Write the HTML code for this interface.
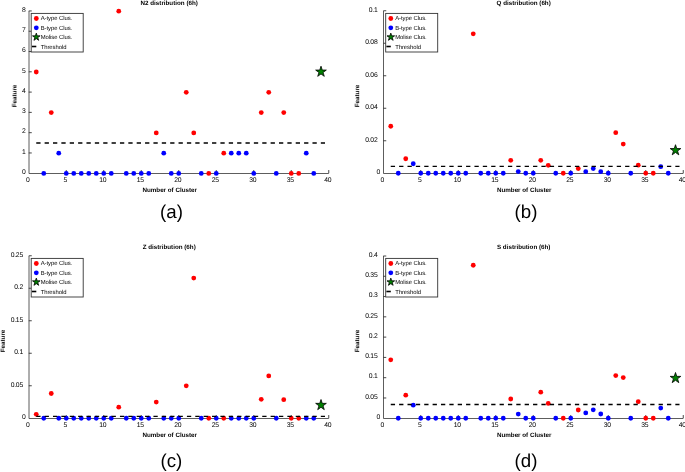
<!DOCTYPE html>
<html><head><meta charset="utf-8"><title>distribution</title><style>
html,body{margin:0;padding:0;background:#fff;}
svg text{will-change:transform;}
svg{display:block;}
text{font-family:"Liberation Sans",sans-serif;text-rendering:geometricPrecision;}
.tk{font-size:6.8px;fill:#000;letter-spacing:-0.25px;}
.lg{font-size:5.9px;fill:#000;letter-spacing:-0.05px;}
.bd{font-size:6.25px;font-weight:bold;fill:#000;}
.big{font-size:18.7px;fill:#000;}
</style></head>
<body><svg width="685" height="472" viewBox="0 0 685 472">
<rect width="685" height="472" fill="#fff"/>
<g transform="translate(0,0)">
<path d="M29.0,11.0 V173.5 H328.75" fill="none" stroke="#333" stroke-width="0.8"/>
<text x="25.45" y="174.05" text-anchor="end" class="tk">0</text>
<line x1="28.75" y1="152.96" x2="31.75" y2="152.96" stroke="#333" stroke-width="0.9"/>
<text x="25.45" y="153.76" text-anchor="end" class="tk">1</text>
<line x1="28.75" y1="132.68" x2="31.75" y2="132.68" stroke="#333" stroke-width="0.9"/>
<text x="25.45" y="133.48" text-anchor="end" class="tk">2</text>
<line x1="28.75" y1="112.39" x2="31.75" y2="112.39" stroke="#333" stroke-width="0.9"/>
<text x="25.45" y="113.19" text-anchor="end" class="tk">3</text>
<line x1="28.75" y1="92.10" x2="31.75" y2="92.10" stroke="#333" stroke-width="0.9"/>
<text x="25.45" y="92.90" text-anchor="end" class="tk">4</text>
<line x1="28.75" y1="71.81" x2="31.75" y2="71.81" stroke="#333" stroke-width="0.9"/>
<text x="25.45" y="72.61" text-anchor="end" class="tk">5</text>
<line x1="28.75" y1="51.53" x2="31.75" y2="51.53" stroke="#333" stroke-width="0.9"/>
<text x="25.45" y="52.33" text-anchor="end" class="tk">6</text>
<line x1="28.75" y1="31.24" x2="31.75" y2="31.24" stroke="#333" stroke-width="0.9"/>
<text x="25.45" y="32.04" text-anchor="end" class="tk">7</text>
<line x1="28.75" y1="10.95" x2="31.75" y2="10.95" stroke="#333" stroke-width="0.9"/>
<text x="25.45" y="11.75" text-anchor="end" class="tk">8</text>
<text x="27.75" y="181.75" text-anchor="middle" class="tk">0</text>
<line x1="66.25" y1="173.25" x2="66.25" y2="170.05" stroke="#333" stroke-width="0.9"/>
<text x="65.25" y="181.75" text-anchor="middle" class="tk">5</text>
<line x1="103.75" y1="173.25" x2="103.75" y2="170.05" stroke="#333" stroke-width="0.9"/>
<text x="102.75" y="181.75" text-anchor="middle" class="tk">10</text>
<line x1="141.25" y1="173.25" x2="141.25" y2="170.05" stroke="#333" stroke-width="0.9"/>
<text x="140.25" y="181.75" text-anchor="middle" class="tk">15</text>
<line x1="178.75" y1="173.25" x2="178.75" y2="170.05" stroke="#333" stroke-width="0.9"/>
<text x="177.75" y="181.75" text-anchor="middle" class="tk">20</text>
<line x1="216.25" y1="173.25" x2="216.25" y2="170.05" stroke="#333" stroke-width="0.9"/>
<text x="215.25" y="181.75" text-anchor="middle" class="tk">25</text>
<line x1="253.75" y1="173.25" x2="253.75" y2="170.05" stroke="#333" stroke-width="0.9"/>
<text x="252.75" y="181.75" text-anchor="middle" class="tk">30</text>
<line x1="291.25" y1="173.25" x2="291.25" y2="170.05" stroke="#333" stroke-width="0.9"/>
<text x="290.25" y="181.75" text-anchor="middle" class="tk">35</text>
<line x1="328.75" y1="173.25" x2="328.75" y2="170.05" stroke="#333" stroke-width="0.9"/>
<text x="327.75" y="181.75" text-anchor="middle" class="tk">40</text>
<circle cx="36.25" cy="72.01" r="2.4" fill="#ff0000"/>
<circle cx="51.25" cy="112.59" r="2.4" fill="#ff0000"/>
<circle cx="118.75" cy="11.15" r="2.4" fill="#ff0000"/>
<circle cx="156.25" cy="132.88" r="2.4" fill="#ff0000"/>
<circle cx="186.25" cy="92.30" r="2.4" fill="#ff0000"/>
<circle cx="193.75" cy="132.88" r="2.4" fill="#ff0000"/>
<circle cx="208.75" cy="173.45" r="2.4" fill="#ff0000"/>
<circle cx="223.75" cy="153.16" r="2.4" fill="#ff0000"/>
<circle cx="261.25" cy="112.59" r="2.4" fill="#ff0000"/>
<circle cx="268.75" cy="92.30" r="2.4" fill="#ff0000"/>
<circle cx="283.75" cy="112.59" r="2.4" fill="#ff0000"/>
<circle cx="291.25" cy="173.45" r="2.4" fill="#ff0000"/>
<circle cx="298.75" cy="173.45" r="2.4" fill="#ff0000"/>
<circle cx="43.75" cy="173.45" r="2.4" fill="#0000ff"/>
<circle cx="66.25" cy="173.45" r="2.4" fill="#0000ff"/>
<circle cx="73.75" cy="173.45" r="2.4" fill="#0000ff"/>
<circle cx="81.25" cy="173.45" r="2.4" fill="#0000ff"/>
<circle cx="88.75" cy="173.45" r="2.4" fill="#0000ff"/>
<circle cx="96.25" cy="173.45" r="2.4" fill="#0000ff"/>
<circle cx="103.75" cy="173.45" r="2.4" fill="#0000ff"/>
<circle cx="111.25" cy="173.45" r="2.4" fill="#0000ff"/>
<circle cx="126.25" cy="173.45" r="2.4" fill="#0000ff"/>
<circle cx="133.75" cy="173.45" r="2.4" fill="#0000ff"/>
<circle cx="141.25" cy="173.45" r="2.4" fill="#0000ff"/>
<circle cx="148.75" cy="173.45" r="2.4" fill="#0000ff"/>
<circle cx="171.25" cy="173.45" r="2.4" fill="#0000ff"/>
<circle cx="178.75" cy="173.45" r="2.4" fill="#0000ff"/>
<circle cx="201.25" cy="173.45" r="2.4" fill="#0000ff"/>
<circle cx="216.25" cy="173.45" r="2.4" fill="#0000ff"/>
<circle cx="253.75" cy="173.45" r="2.4" fill="#0000ff"/>
<circle cx="276.25" cy="173.45" r="2.4" fill="#0000ff"/>
<circle cx="313.75" cy="173.45" r="2.4" fill="#0000ff"/>
<circle cx="58.75" cy="153.16" r="2.4" fill="#0000ff"/>
<circle cx="163.75" cy="153.16" r="2.4" fill="#0000ff"/>
<circle cx="231.25" cy="153.16" r="2.4" fill="#0000ff"/>
<circle cx="238.75" cy="153.16" r="2.4" fill="#0000ff"/>
<circle cx="246.25" cy="153.16" r="2.4" fill="#0000ff"/>
<circle cx="306.25" cy="153.16" r="2.4" fill="#0000ff"/>
<polygon points="321.00,66.20 322.26,70.06 326.33,70.07 323.04,72.46 324.29,76.33 321.00,73.95 317.71,76.33 318.96,72.46 315.67,70.07 319.74,70.06" fill="#008000" stroke="#000" stroke-width="0.8"/>
<line x1="36.25" y1="143.00" x2="325.0" y2="143.00" stroke="#000" stroke-width="1.4" stroke-dasharray="4.3 4.07"/>
<rect x="31.2" y="13.4" width="52.0" height="38.6" fill="#fff" stroke="#333" stroke-width="0.9"/>
<circle cx="36.3" cy="18.5" r="2.4" fill="#ff0000"/>
<circle cx="36.3" cy="27.8" r="2.4" fill="#0000ff"/>
<polygon points="36.30,33.10 37.21,35.85 40.10,35.86 37.77,37.58 38.65,40.34 36.30,38.65 33.95,40.34 34.83,37.58 32.50,35.86 35.39,35.85" fill="#008000" stroke="#000" stroke-width="0.8"/>
<line x1="31.9" y1="46.5" x2="36.3" y2="46.5" stroke="#000" stroke-width="1.6"/>
<text x="40.7" y="20.30" class="lg">A-type Clus.</text>
<text x="40.7" y="29.75" class="lg">B-type Clus.</text>
<text x="40.7" y="39.20" class="lg">Molise Clus.</text>
<text x="40.7" y="48.75" class="lg">Threshold</text>
<text x="169.2" y="4.5" text-anchor="middle" class="bd">N2 distribution (6h)</text>
<text x="169.7" y="191.8" text-anchor="middle" class="bd">Number of Cluster</text>
<text transform="translate(16.5,96) rotate(-90)" text-anchor="middle" class="bd">Feature</text>
</g>
<text x="171.45" y="217.5" text-anchor="middle" class="big">(a)</text>
<g transform="translate(354.5,0)">
<path d="M29.0,11.0 V173.5 H328.75" fill="none" stroke="#333" stroke-width="0.8"/>
<text x="25.45" y="174.05" text-anchor="end" class="tk">0</text>
<line x1="28.75" y1="140.75" x2="31.75" y2="140.75" stroke="#333" stroke-width="0.9"/>
<text x="22.95" y="141.55" text-anchor="end" class="tk">0.02</text>
<line x1="28.75" y1="108.25" x2="31.75" y2="108.25" stroke="#333" stroke-width="0.9"/>
<text x="22.95" y="109.05" text-anchor="end" class="tk">0.04</text>
<line x1="28.75" y1="75.75" x2="31.75" y2="75.75" stroke="#333" stroke-width="0.9"/>
<text x="22.95" y="76.55" text-anchor="end" class="tk">0.06</text>
<line x1="28.75" y1="43.25" x2="31.75" y2="43.25" stroke="#333" stroke-width="0.9"/>
<text x="22.95" y="44.05" text-anchor="end" class="tk">0.08</text>
<line x1="28.75" y1="10.75" x2="31.75" y2="10.75" stroke="#333" stroke-width="0.9"/>
<text x="22.95" y="11.55" text-anchor="end" class="tk">0.1</text>
<text x="27.75" y="181.75" text-anchor="middle" class="tk">0</text>
<line x1="66.25" y1="173.25" x2="66.25" y2="170.05" stroke="#333" stroke-width="0.9"/>
<text x="65.25" y="181.75" text-anchor="middle" class="tk">5</text>
<line x1="103.75" y1="173.25" x2="103.75" y2="170.05" stroke="#333" stroke-width="0.9"/>
<text x="102.75" y="181.75" text-anchor="middle" class="tk">10</text>
<line x1="141.25" y1="173.25" x2="141.25" y2="170.05" stroke="#333" stroke-width="0.9"/>
<text x="140.25" y="181.75" text-anchor="middle" class="tk">15</text>
<line x1="178.75" y1="173.25" x2="178.75" y2="170.05" stroke="#333" stroke-width="0.9"/>
<text x="177.75" y="181.75" text-anchor="middle" class="tk">20</text>
<line x1="216.25" y1="173.25" x2="216.25" y2="170.05" stroke="#333" stroke-width="0.9"/>
<text x="215.25" y="181.75" text-anchor="middle" class="tk">25</text>
<line x1="253.75" y1="173.25" x2="253.75" y2="170.05" stroke="#333" stroke-width="0.9"/>
<text x="252.75" y="181.75" text-anchor="middle" class="tk">30</text>
<line x1="291.25" y1="173.25" x2="291.25" y2="170.05" stroke="#333" stroke-width="0.9"/>
<text x="290.25" y="181.75" text-anchor="middle" class="tk">35</text>
<line x1="328.75" y1="173.25" x2="328.75" y2="170.05" stroke="#333" stroke-width="0.9"/>
<text x="327.75" y="181.75" text-anchor="middle" class="tk">40</text>
<circle cx="36.25" cy="126.25" r="2.4" fill="#ff0000"/>
<circle cx="51.25" cy="158.75" r="2.4" fill="#ff0000"/>
<circle cx="118.75" cy="33.80" r="2.4" fill="#ff0000"/>
<circle cx="156.25" cy="160.30" r="2.4" fill="#ff0000"/>
<circle cx="186.25" cy="160.30" r="2.4" fill="#ff0000"/>
<circle cx="193.75" cy="165.30" r="2.4" fill="#ff0000"/>
<circle cx="208.75" cy="173.25" r="2.4" fill="#ff0000"/>
<circle cx="223.75" cy="168.60" r="2.4" fill="#ff0000"/>
<circle cx="261.25" cy="132.70" r="2.4" fill="#ff0000"/>
<circle cx="268.75" cy="144.10" r="2.4" fill="#ff0000"/>
<circle cx="283.75" cy="165.20" r="2.4" fill="#ff0000"/>
<circle cx="291.25" cy="173.25" r="2.4" fill="#ff0000"/>
<circle cx="298.75" cy="173.25" r="2.4" fill="#ff0000"/>
<circle cx="43.75" cy="173.25" r="2.4" fill="#0000ff"/>
<circle cx="66.25" cy="173.25" r="2.4" fill="#0000ff"/>
<circle cx="73.75" cy="173.25" r="2.4" fill="#0000ff"/>
<circle cx="81.25" cy="173.25" r="2.4" fill="#0000ff"/>
<circle cx="88.75" cy="173.25" r="2.4" fill="#0000ff"/>
<circle cx="96.25" cy="173.25" r="2.4" fill="#0000ff"/>
<circle cx="103.75" cy="173.25" r="2.4" fill="#0000ff"/>
<circle cx="111.25" cy="173.25" r="2.4" fill="#0000ff"/>
<circle cx="126.25" cy="173.25" r="2.4" fill="#0000ff"/>
<circle cx="133.75" cy="173.25" r="2.4" fill="#0000ff"/>
<circle cx="141.25" cy="173.25" r="2.4" fill="#0000ff"/>
<circle cx="148.75" cy="173.25" r="2.4" fill="#0000ff"/>
<circle cx="171.25" cy="173.25" r="2.4" fill="#0000ff"/>
<circle cx="178.75" cy="173.25" r="2.4" fill="#0000ff"/>
<circle cx="201.25" cy="173.25" r="2.4" fill="#0000ff"/>
<circle cx="216.25" cy="173.25" r="2.4" fill="#0000ff"/>
<circle cx="253.75" cy="173.25" r="2.4" fill="#0000ff"/>
<circle cx="276.25" cy="173.25" r="2.4" fill="#0000ff"/>
<circle cx="313.75" cy="173.25" r="2.4" fill="#0000ff"/>
<circle cx="58.75" cy="163.75" r="2.4" fill="#0000ff"/>
<circle cx="163.75" cy="171.60" r="2.4" fill="#0000ff"/>
<circle cx="231.25" cy="171.70" r="2.4" fill="#0000ff"/>
<circle cx="238.75" cy="168.60" r="2.4" fill="#0000ff"/>
<circle cx="246.25" cy="171.70" r="2.4" fill="#0000ff"/>
<circle cx="306.25" cy="166.70" r="2.4" fill="#0000ff"/>
<polygon points="321.00,144.70 322.26,148.56 326.33,148.57 323.04,150.96 324.29,154.83 321.00,152.45 317.71,154.83 318.96,150.96 315.67,148.57 319.74,148.56" fill="#008000" stroke="#000" stroke-width="0.8"/>
<line x1="36.25" y1="166.40" x2="325.0" y2="166.40" stroke="#000" stroke-width="1.4" stroke-dasharray="4.3 4.07"/>
<rect x="31.2" y="13.4" width="52.0" height="38.6" fill="#fff" stroke="#333" stroke-width="0.9"/>
<circle cx="36.3" cy="18.5" r="2.4" fill="#ff0000"/>
<circle cx="36.3" cy="27.8" r="2.4" fill="#0000ff"/>
<polygon points="36.30,33.10 37.21,35.85 40.10,35.86 37.77,37.58 38.65,40.34 36.30,38.65 33.95,40.34 34.83,37.58 32.50,35.86 35.39,35.85" fill="#008000" stroke="#000" stroke-width="0.8"/>
<line x1="31.9" y1="46.5" x2="36.3" y2="46.5" stroke="#000" stroke-width="1.6"/>
<text x="40.7" y="20.30" class="lg">A-type Clus.</text>
<text x="40.7" y="29.75" class="lg">B-type Clus.</text>
<text x="40.7" y="39.20" class="lg">Molise Clus.</text>
<text x="40.7" y="48.75" class="lg">Threshold</text>
<text x="169.2" y="4.5" text-anchor="middle" class="bd">Q distribution (6h)</text>
<text x="169.7" y="191.8" text-anchor="middle" class="bd">Number of Cluster</text>
<text transform="translate(4.7,96) rotate(-90)" text-anchor="middle" class="bd">Feature</text>
</g>
<text x="525.95" y="217.5" text-anchor="middle" class="big">(b)</text>
<g transform="translate(0,245)">
<path d="M29.0,11.0 V173.5 H328.75" fill="none" stroke="#333" stroke-width="0.8"/>
<text x="25.45" y="174.05" text-anchor="end" class="tk">0</text>
<line x1="28.75" y1="140.75" x2="31.75" y2="140.75" stroke="#333" stroke-width="0.9"/>
<text x="22.95" y="141.55" text-anchor="end" class="tk">0.05</text>
<line x1="28.75" y1="108.25" x2="31.75" y2="108.25" stroke="#333" stroke-width="0.9"/>
<text x="22.95" y="109.05" text-anchor="end" class="tk">0.1</text>
<line x1="28.75" y1="75.75" x2="31.75" y2="75.75" stroke="#333" stroke-width="0.9"/>
<text x="22.95" y="76.55" text-anchor="end" class="tk">0.15</text>
<line x1="28.75" y1="43.25" x2="31.75" y2="43.25" stroke="#333" stroke-width="0.9"/>
<text x="22.95" y="44.05" text-anchor="end" class="tk">0.2</text>
<line x1="28.75" y1="10.75" x2="31.75" y2="10.75" stroke="#333" stroke-width="0.9"/>
<text x="22.95" y="11.55" text-anchor="end" class="tk">0.25</text>
<text x="27.75" y="181.75" text-anchor="middle" class="tk">0</text>
<line x1="66.25" y1="173.25" x2="66.25" y2="170.05" stroke="#333" stroke-width="0.9"/>
<text x="65.25" y="181.75" text-anchor="middle" class="tk">5</text>
<line x1="103.75" y1="173.25" x2="103.75" y2="170.05" stroke="#333" stroke-width="0.9"/>
<text x="102.75" y="181.75" text-anchor="middle" class="tk">10</text>
<line x1="141.25" y1="173.25" x2="141.25" y2="170.05" stroke="#333" stroke-width="0.9"/>
<text x="140.25" y="181.75" text-anchor="middle" class="tk">15</text>
<line x1="178.75" y1="173.25" x2="178.75" y2="170.05" stroke="#333" stroke-width="0.9"/>
<text x="177.75" y="181.75" text-anchor="middle" class="tk">20</text>
<line x1="216.25" y1="173.25" x2="216.25" y2="170.05" stroke="#333" stroke-width="0.9"/>
<text x="215.25" y="181.75" text-anchor="middle" class="tk">25</text>
<line x1="253.75" y1="173.25" x2="253.75" y2="170.05" stroke="#333" stroke-width="0.9"/>
<text x="252.75" y="181.75" text-anchor="middle" class="tk">30</text>
<line x1="291.25" y1="173.25" x2="291.25" y2="170.05" stroke="#333" stroke-width="0.9"/>
<text x="290.25" y="181.75" text-anchor="middle" class="tk">35</text>
<line x1="328.75" y1="173.25" x2="328.75" y2="170.05" stroke="#333" stroke-width="0.9"/>
<text x="327.75" y="181.75" text-anchor="middle" class="tk">40</text>
<circle cx="36.25" cy="169.30" r="2.4" fill="#ff0000"/>
<circle cx="51.25" cy="148.50" r="2.4" fill="#ff0000"/>
<circle cx="118.75" cy="162.20" r="2.4" fill="#ff0000"/>
<circle cx="156.25" cy="157.10" r="2.4" fill="#ff0000"/>
<circle cx="186.25" cy="140.80" r="2.4" fill="#ff0000"/>
<circle cx="193.75" cy="33.05" r="2.4" fill="#ff0000"/>
<circle cx="208.75" cy="173.25" r="2.4" fill="#ff0000"/>
<circle cx="223.75" cy="173.25" r="2.4" fill="#ff0000"/>
<circle cx="261.25" cy="154.30" r="2.4" fill="#ff0000"/>
<circle cx="268.75" cy="130.90" r="2.4" fill="#ff0000"/>
<circle cx="283.75" cy="154.70" r="2.4" fill="#ff0000"/>
<circle cx="291.25" cy="173.25" r="2.4" fill="#ff0000"/>
<circle cx="298.75" cy="173.25" r="2.4" fill="#ff0000"/>
<circle cx="43.75" cy="173.25" r="2.4" fill="#0000ff"/>
<circle cx="66.25" cy="173.25" r="2.4" fill="#0000ff"/>
<circle cx="73.75" cy="173.25" r="2.4" fill="#0000ff"/>
<circle cx="81.25" cy="173.25" r="2.4" fill="#0000ff"/>
<circle cx="88.75" cy="173.25" r="2.4" fill="#0000ff"/>
<circle cx="96.25" cy="173.25" r="2.4" fill="#0000ff"/>
<circle cx="103.75" cy="173.25" r="2.4" fill="#0000ff"/>
<circle cx="111.25" cy="173.25" r="2.4" fill="#0000ff"/>
<circle cx="126.25" cy="173.25" r="2.4" fill="#0000ff"/>
<circle cx="133.75" cy="173.25" r="2.4" fill="#0000ff"/>
<circle cx="141.25" cy="173.25" r="2.4" fill="#0000ff"/>
<circle cx="148.75" cy="173.25" r="2.4" fill="#0000ff"/>
<circle cx="171.25" cy="173.25" r="2.4" fill="#0000ff"/>
<circle cx="178.75" cy="173.25" r="2.4" fill="#0000ff"/>
<circle cx="201.25" cy="173.25" r="2.4" fill="#0000ff"/>
<circle cx="216.25" cy="173.25" r="2.4" fill="#0000ff"/>
<circle cx="253.75" cy="173.25" r="2.4" fill="#0000ff"/>
<circle cx="276.25" cy="173.25" r="2.4" fill="#0000ff"/>
<circle cx="313.75" cy="173.25" r="2.4" fill="#0000ff"/>
<circle cx="58.75" cy="173.25" r="2.4" fill="#0000ff"/>
<circle cx="163.75" cy="173.25" r="2.4" fill="#0000ff"/>
<circle cx="231.25" cy="173.25" r="2.4" fill="#0000ff"/>
<circle cx="238.75" cy="173.25" r="2.4" fill="#0000ff"/>
<circle cx="246.25" cy="173.25" r="2.4" fill="#0000ff"/>
<circle cx="306.25" cy="173.25" r="2.4" fill="#0000ff"/>
<polygon points="321.00,154.50 322.26,158.36 326.33,158.37 323.04,160.76 324.29,164.63 321.00,162.25 317.71,164.63 318.96,160.76 315.67,158.37 319.74,158.36" fill="#008000" stroke="#000" stroke-width="0.8"/>
<line x1="36.25" y1="171.40" x2="325.0" y2="171.40" stroke="#000" stroke-width="1.4" stroke-dasharray="4.3 4.07"/>
<rect x="31.2" y="13.4" width="52.0" height="38.6" fill="#fff" stroke="#333" stroke-width="0.9"/>
<circle cx="36.3" cy="18.5" r="2.4" fill="#ff0000"/>
<circle cx="36.3" cy="27.8" r="2.4" fill="#0000ff"/>
<polygon points="36.30,33.10 37.21,35.85 40.10,35.86 37.77,37.58 38.65,40.34 36.30,38.65 33.95,40.34 34.83,37.58 32.50,35.86 35.39,35.85" fill="#008000" stroke="#000" stroke-width="0.8"/>
<line x1="31.9" y1="46.5" x2="36.3" y2="46.5" stroke="#000" stroke-width="1.6"/>
<text x="40.7" y="20.30" class="lg">A-type Clus.</text>
<text x="40.7" y="29.75" class="lg">B-type Clus.</text>
<text x="40.7" y="39.20" class="lg">Molise Clus.</text>
<text x="40.7" y="48.75" class="lg">Threshold</text>
<text x="169.2" y="4.1" text-anchor="middle" class="bd">Z distribution (6h)</text>
<text x="169.7" y="191.8" text-anchor="middle" class="bd">Number of Cluster</text>
<text transform="translate(4.800000000000001,96) rotate(-90)" text-anchor="middle" class="bd">Feature</text>
</g>
<text x="171.45" y="466.6" text-anchor="middle" class="big">(c)</text>
<g transform="translate(354.5,245)">
<path d="M29.0,11.0 V173.5 H328.75" fill="none" stroke="#333" stroke-width="0.8"/>
<text x="25.45" y="174.05" text-anchor="end" class="tk">0</text>
<line x1="28.75" y1="152.97" x2="31.75" y2="152.97" stroke="#333" stroke-width="0.9"/>
<text x="22.95" y="153.77" text-anchor="end" class="tk">0.05</text>
<line x1="28.75" y1="132.69" x2="31.75" y2="132.69" stroke="#333" stroke-width="0.9"/>
<text x="22.95" y="133.49" text-anchor="end" class="tk">0.1</text>
<line x1="28.75" y1="112.41" x2="31.75" y2="112.41" stroke="#333" stroke-width="0.9"/>
<text x="22.95" y="113.21" text-anchor="end" class="tk">0.15</text>
<line x1="28.75" y1="92.12" x2="31.75" y2="92.12" stroke="#333" stroke-width="0.9"/>
<text x="22.95" y="92.92" text-anchor="end" class="tk">0.2</text>
<line x1="28.75" y1="71.84" x2="31.75" y2="71.84" stroke="#333" stroke-width="0.9"/>
<text x="22.95" y="72.64" text-anchor="end" class="tk">0.25</text>
<line x1="28.75" y1="51.56" x2="31.75" y2="51.56" stroke="#333" stroke-width="0.9"/>
<text x="22.95" y="52.36" text-anchor="end" class="tk">0.3</text>
<line x1="28.75" y1="31.28" x2="31.75" y2="31.28" stroke="#333" stroke-width="0.9"/>
<text x="22.95" y="32.08" text-anchor="end" class="tk">0.35</text>
<line x1="28.75" y1="11.00" x2="31.75" y2="11.00" stroke="#333" stroke-width="0.9"/>
<text x="22.95" y="11.80" text-anchor="end" class="tk">0.4</text>
<text x="27.75" y="181.75" text-anchor="middle" class="tk">0</text>
<line x1="66.25" y1="173.25" x2="66.25" y2="170.05" stroke="#333" stroke-width="0.9"/>
<text x="65.25" y="181.75" text-anchor="middle" class="tk">5</text>
<line x1="103.75" y1="173.25" x2="103.75" y2="170.05" stroke="#333" stroke-width="0.9"/>
<text x="102.75" y="181.75" text-anchor="middle" class="tk">10</text>
<line x1="141.25" y1="173.25" x2="141.25" y2="170.05" stroke="#333" stroke-width="0.9"/>
<text x="140.25" y="181.75" text-anchor="middle" class="tk">15</text>
<line x1="178.75" y1="173.25" x2="178.75" y2="170.05" stroke="#333" stroke-width="0.9"/>
<text x="177.75" y="181.75" text-anchor="middle" class="tk">20</text>
<line x1="216.25" y1="173.25" x2="216.25" y2="170.05" stroke="#333" stroke-width="0.9"/>
<text x="215.25" y="181.75" text-anchor="middle" class="tk">25</text>
<line x1="253.75" y1="173.25" x2="253.75" y2="170.05" stroke="#333" stroke-width="0.9"/>
<text x="252.75" y="181.75" text-anchor="middle" class="tk">30</text>
<line x1="291.25" y1="173.25" x2="291.25" y2="170.05" stroke="#333" stroke-width="0.9"/>
<text x="290.25" y="181.75" text-anchor="middle" class="tk">35</text>
<line x1="328.75" y1="173.25" x2="328.75" y2="170.05" stroke="#333" stroke-width="0.9"/>
<text x="327.75" y="181.75" text-anchor="middle" class="tk">40</text>
<circle cx="36.25" cy="114.80" r="2.4" fill="#ff0000"/>
<circle cx="51.25" cy="150.20" r="2.4" fill="#ff0000"/>
<circle cx="118.75" cy="20.25" r="2.4" fill="#ff0000"/>
<circle cx="156.25" cy="154.00" r="2.4" fill="#ff0000"/>
<circle cx="186.25" cy="147.20" r="2.4" fill="#ff0000"/>
<circle cx="193.75" cy="158.40" r="2.4" fill="#ff0000"/>
<circle cx="208.75" cy="173.25" r="2.4" fill="#ff0000"/>
<circle cx="223.75" cy="165.00" r="2.4" fill="#ff0000"/>
<circle cx="261.25" cy="130.60" r="2.4" fill="#ff0000"/>
<circle cx="268.75" cy="132.60" r="2.4" fill="#ff0000"/>
<circle cx="283.75" cy="156.70" r="2.4" fill="#ff0000"/>
<circle cx="291.25" cy="173.25" r="2.4" fill="#ff0000"/>
<circle cx="298.75" cy="173.25" r="2.4" fill="#ff0000"/>
<circle cx="43.75" cy="173.25" r="2.4" fill="#0000ff"/>
<circle cx="66.25" cy="173.25" r="2.4" fill="#0000ff"/>
<circle cx="73.75" cy="173.25" r="2.4" fill="#0000ff"/>
<circle cx="81.25" cy="173.25" r="2.4" fill="#0000ff"/>
<circle cx="88.75" cy="173.25" r="2.4" fill="#0000ff"/>
<circle cx="96.25" cy="173.25" r="2.4" fill="#0000ff"/>
<circle cx="103.75" cy="173.25" r="2.4" fill="#0000ff"/>
<circle cx="111.25" cy="173.25" r="2.4" fill="#0000ff"/>
<circle cx="126.25" cy="173.25" r="2.4" fill="#0000ff"/>
<circle cx="133.75" cy="173.25" r="2.4" fill="#0000ff"/>
<circle cx="141.25" cy="173.25" r="2.4" fill="#0000ff"/>
<circle cx="148.75" cy="173.25" r="2.4" fill="#0000ff"/>
<circle cx="171.25" cy="173.25" r="2.4" fill="#0000ff"/>
<circle cx="178.75" cy="173.25" r="2.4" fill="#0000ff"/>
<circle cx="201.25" cy="173.25" r="2.4" fill="#0000ff"/>
<circle cx="216.25" cy="173.25" r="2.4" fill="#0000ff"/>
<circle cx="253.75" cy="173.25" r="2.4" fill="#0000ff"/>
<circle cx="276.25" cy="173.25" r="2.4" fill="#0000ff"/>
<circle cx="313.75" cy="173.25" r="2.4" fill="#0000ff"/>
<circle cx="58.75" cy="160.20" r="2.4" fill="#0000ff"/>
<circle cx="163.75" cy="169.10" r="2.4" fill="#0000ff"/>
<circle cx="231.25" cy="167.90" r="2.4" fill="#0000ff"/>
<circle cx="238.75" cy="164.80" r="2.4" fill="#0000ff"/>
<circle cx="246.25" cy="169.00" r="2.4" fill="#0000ff"/>
<circle cx="306.25" cy="163.10" r="2.4" fill="#0000ff"/>
<polygon points="321.00,127.50 322.26,131.36 326.33,131.37 323.04,133.76 324.29,137.63 321.00,135.25 317.71,137.63 318.96,133.76 315.67,131.37 319.74,131.36" fill="#008000" stroke="#000" stroke-width="0.8"/>
<line x1="36.25" y1="159.50" x2="325.0" y2="159.50" stroke="#000" stroke-width="1.4" stroke-dasharray="4.3 4.07"/>
<rect x="31.2" y="13.4" width="52.0" height="38.6" fill="#fff" stroke="#333" stroke-width="0.9"/>
<circle cx="36.3" cy="18.5" r="2.4" fill="#ff0000"/>
<circle cx="36.3" cy="27.8" r="2.4" fill="#0000ff"/>
<polygon points="36.30,33.10 37.21,35.85 40.10,35.86 37.77,37.58 38.65,40.34 36.30,38.65 33.95,40.34 34.83,37.58 32.50,35.86 35.39,35.85" fill="#008000" stroke="#000" stroke-width="0.8"/>
<line x1="31.9" y1="46.5" x2="36.3" y2="46.5" stroke="#000" stroke-width="1.6"/>
<text x="40.7" y="20.30" class="lg">A-type Clus.</text>
<text x="40.7" y="29.75" class="lg">B-type Clus.</text>
<text x="40.7" y="39.20" class="lg">Molise Clus.</text>
<text x="40.7" y="48.75" class="lg">Threshold</text>
<text x="169.2" y="4.1" text-anchor="middle" class="bd">S distribution (6h)</text>
<text x="169.7" y="191.8" text-anchor="middle" class="bd">Number of Cluster</text>
<text transform="translate(4.7,96) rotate(-90)" text-anchor="middle" class="bd">Feature</text>
</g>
<text x="525.95" y="466.6" text-anchor="middle" class="big">(d)</text>
</svg></body></html>
